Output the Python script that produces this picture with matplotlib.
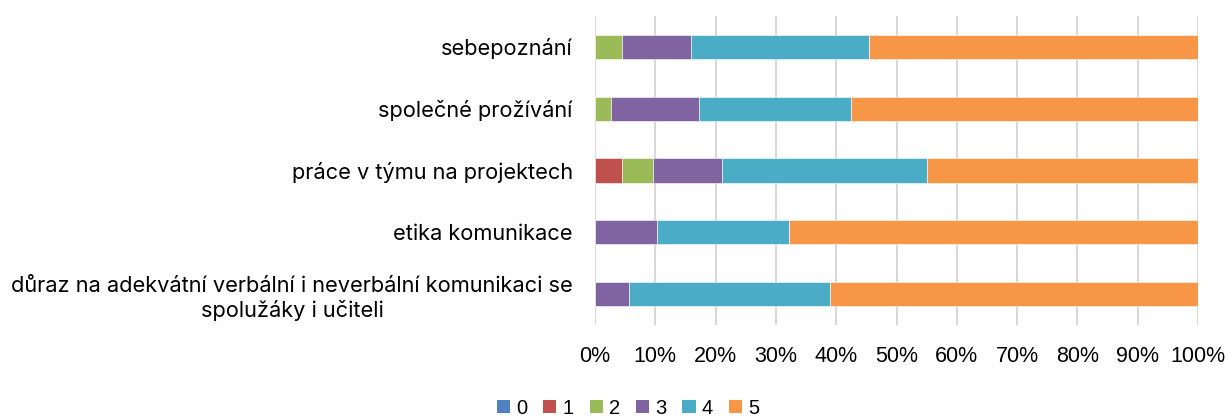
import matplotlib
matplotlib.use("Agg")
import matplotlib.pyplot as plt
from matplotlib.ticker import PercentFormatter, MultipleLocator
from matplotlib.patches import Patch
import numpy as np

categories = [
    "sebepoznání",
    "společné prožívání",
    "práce v týmu na projektech",
    "etika komunikace",
    "důraz na adekvátní verbální i neverbální komunikaci se\nspolužáky i učiteli",
]
series_names = ["0", "1", "2", "3", "4", "5"]
s0 = [0.0, 0.0, 0.0, 0.0, 0.0]
s1 = [0.0, 0.0, 4.4, 0.0, 0.0]
s2 = [4.4, 2.6, 5.2, 0.0, 0.0]
s3 = [11.5, 14.7, 11.5, 10.2, 5.6]
s4 = [29.6, 25.1, 34.0, 21.9, 33.4]
s5 = [54.5, 57.6, 44.9, 67.9, 61.0]
colors = ["#4F81BD", "#C0504D", "#9BBB59", "#8064A2", "#4BACC6", "#F79646"]

W, H = 1229, 417
fig = plt.figure(figsize=(W / 100, H / 100), dpi=100)
ax = fig.add_axes([595 / W, 1 - 325 / H, (1198 - 595) / W, (325 - 16) / H])

y = np.arange(len(categories))
left = np.zeros(len(categories))
for name, vals, c in zip(series_names, [s0, s1, s2, s3, s4, s5], colors):
    v = np.array(vals)
    ax.barh(y, v, left=left, height=0.39, color=c, edgecolor="white", linewidth=0.4, zorder=3)
    left += v

ax.set_ylim(len(categories) - 0.5, -0.5)
ax.set_xlim(0, 100)
ax.set_yticks(y)
ax.set_yticklabels(categories, fontfamily="Inter", fontsize=15.7, multialignment="center",
                   linespacing=1.25)
ax.xaxis.set_major_locator(MultipleLocator(10))
ax.xaxis.set_major_formatter(PercentFormatter(decimals=0))
for lbl in ax.get_xticklabels():
    lbl.set_fontfamily("Liberation Sans")
    lbl.set_fontsize(15.5)
ax.tick_params(axis="both", length=0, colors="#000000")
ax.tick_params(axis="y", pad=16)
ax.tick_params(axis="x", pad=15)
for sp in ax.spines.values():
    sp.set_visible(False)
ax.grid(axis="x", color="#D9D9D9", linewidth=1.5, zorder=0)
ax.set_axisbelow(True)

handles = [Patch(facecolor=c, edgecolor="none") for c in colors]
fig.legend(handles, series_names, loc="center", bbox_to_anchor=(628 / W, 1 - 408 / H),
           ncol=6, frameon=False, prop={"family": "Liberation Sans", "size": 14.5},
           handlelength=0.65, handleheight=0.65, handletextpad=0.3, columnspacing=0.8,
           borderaxespad=0, borderpad=0)

fig.savefig("out.png", dpi=100)
